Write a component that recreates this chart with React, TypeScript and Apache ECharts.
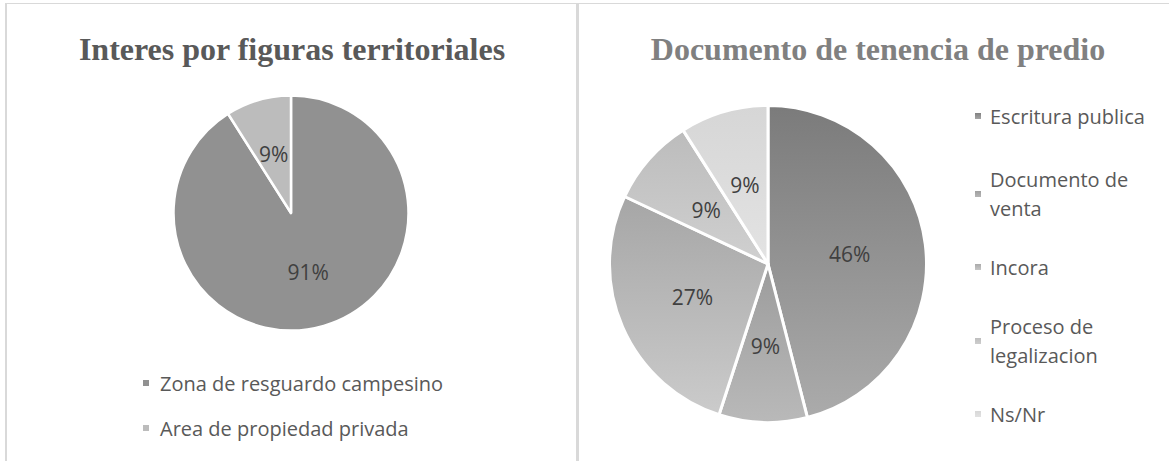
import React, { useEffect, useRef } from "react";
import * as echarts from "echarts";

const leftTitle = "Interes por figuras territoriales";
const rightTitle = "Documento de tenencia de predio";

const leftCategories = ["Zona de resguardo campesino", "Area de propiedad privada"];
const leftValues = [91, 9];
const leftColors = ["#919191", "#bcbcbc"];

const rightCategories = ["Escritura publica", "Documento de venta", "Incora", "Proceso de legalizacion", "Ns/Nr"];
const rightLegendLabels = ["Escritura publica", "Documento de\nventa", "Incora", "Proceso de\nlegalizacion", "Ns/Nr"];
const rightValues = [46, 9, 27, 9, 9];
const rightTopColors = ["#7b7b7b", "#9c9c9c", "#a6a6a6", "#bcbcbc", "#d6d6d6"];
const rightBottomColors = ["#ababab", "#b9b9b9", "#cbcbcb", "#d0d0d0", "#e3e3e3"];
const rightLegendCenters = [116, 194, 267, 341, 414];

const FONT = "'Open Sans', 'Noto Sans', sans-serif";

function grad(a: string, b: string) {
  return new echarts.graphic.LinearGradient(0, 0, 0, 1, [
    { offset: 0, color: a },
    { offset: 1, color: b },
  ]);
}

export default function App() {
  const ref = useRef<HTMLDivElement>(null);
  useEffect(() => {
    if (!ref.current) return;
    const chart = echarts.init(ref.current, undefined, { renderer: "svg" });
    const LH = 29;
    const rightLegends = rightCategories.map((name, i) => {
      const twoLines = rightLegendLabels[i].includes("\n");
      return {
        show: true,
        orient: "vertical",
        left: 973,
        top: rightLegendCenters[i] - (twoLines ? LH * 1.5 : LH / 2),
        padding: 0,
        itemWidth: 8,
        itemHeight: 8,
        icon: "rect",
        data: [name],
        formatter: () => rightLegendLabels[i],
        selectedMode: false,
        textStyle: {
          color: "#595959",
          fontSize: 20,
          fontFamily: FONT,
          lineHeight: LH,
          padding: [twoLines ? LH : 0, 0, 0, 3],
        },
      };
    });
    chart.setOption({
      animation: false,
      backgroundColor: "#ffffff",
      title: [
        {
          text: leftTitle,
          left: 287,
          top: 28,
          textAlign: "center",
          textStyle: {
            fontFamily: "'Liberation Serif', 'Times New Roman', serif",
            fontWeight: "bold",
            fontSize: 32,
            color: "#595959",
          },
        },
        {
          text: rightTitle,
          left: 873,
          top: 28,
          textAlign: "center",
          textStyle: {
            fontFamily: "'Liberation Serif', 'Times New Roman', serif",
            fontWeight: "bold",
            fontSize: 32,
            color: "#808080",
          },
        },
      ],
      legend: [
        {
          show: true,
          orient: "vertical",
          left: 141,
          top: 372,
          padding: 0,
          itemGap: 23,
          itemWidth: 8,
          itemHeight: 8,
          icon: "rect",
          data: leftCategories,
          selectedMode: false,
          textStyle: {
            color: "#595959",
            fontSize: 20,
            fontFamily: FONT,
            lineHeight: 22,
            padding: [0, 0, 0, 5],
          },
        },
        ...rightLegends,
      ],
      graphic: [
        { type: "rect", shape: { x: 5, y: 3, width: 1164, height: 1 }, style: { fill: "#d9d9d9" }, silent: true },
        { type: "rect", shape: { x: 5, y: 3, width: 2, height: 458 }, style: { fill: "#d9d9d9" }, silent: true },
        { type: "rect", shape: { x: 576, y: 3, width: 3, height: 458 }, style: { fill: "#d9d9d9" }, silent: true },
      ],
      series: [
        {
          type: "pie",
          center: [291, 213],
          radius: 117.5,
          startAngle: 90,
          clockwise: true,
          data: leftCategories.map((name, i) => ({
            name,
            value: leftValues[i],
            itemStyle: { color: leftColors[i] },
          })),
          itemStyle: { borderColor: "#ffffff", borderWidth: 2.5 },
          label: {
            show: true,
            position: "inside",
            formatter: "{c}%",
            color: "#404040",
            fontSize: 21,
            fontFamily: FONT,
          },
          labelLine: { show: false },
          emphasis: { disabled: true },
        },
        {
          type: "pie",
          center: [768, 264],
          radius: 158.5,
          startAngle: 90,
          clockwise: true,
          data: rightCategories.map((name, i) => ({
            name,
            value: rightValues[i],
            itemStyle: { color: grad(rightTopColors[i], rightBottomColors[i]) },
          })),
          itemStyle: { borderColor: "#ffffff", borderWidth: 3 },
          label: {
            show: true,
            position: "inside",
            formatter: "{c}%",
            color: "#404040",
            fontSize: 21,
            fontFamily: FONT,
          },
          labelLine: { show: false },
          emphasis: { disabled: true },
        },
      ],
    });
    return () => chart.dispose();
  }, []);
  return (
    <div
      ref={ref}
      style={{ position: "fixed", left: 0, top: 0, width: 1169, height: 461, background: "#fff" }}
    />
  );
}
